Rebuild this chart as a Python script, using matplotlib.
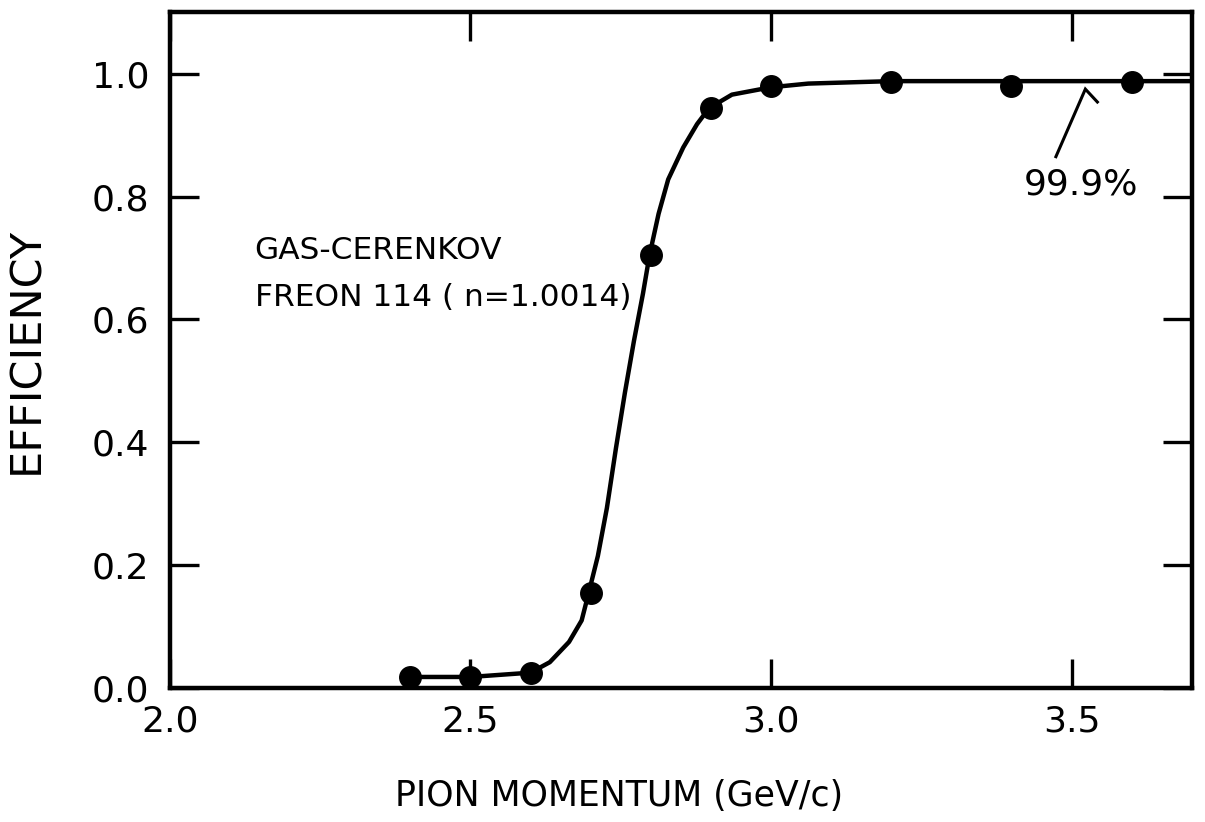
"""
Gas-Cerenkov counter efficiency vs pion momentum (Freon 114 radiator).
"""

import matplotlib
matplotlib.use("Agg")
import matplotlib.pyplot as plt

# ── Data ──────────────────────────────────────────────────────────────────────

# measured efficiency points
momentum   = [2.4, 2.5, 2.6, 2.7, 2.8, 2.9, 3.0, 3.2, 3.4, 3.6]
efficiency = [0.018, 0.018, 0.025, 0.155, 0.705, 0.945, 0.980, 0.986, 0.980, 0.986]

# hand-drawn threshold curve through the points
curve_p   = [2.400, 2.500, 2.600, 2.632, 2.664, 2.685, 2.697, 2.712, 2.727,
             2.742, 2.757, 2.772, 2.787, 2.798, 2.813, 2.829, 2.854, 2.877,
             2.897, 2.935, 3.000, 3.062, 3.200, 3.700]
curve_eff = [0.018, 0.018, 0.025, 0.042, 0.075, 0.110, 0.156, 0.215, 0.293,
             0.390, 0.481, 0.565, 0.642, 0.705, 0.772, 0.828, 0.880, 0.918,
             0.944, 0.966, 0.978, 0.984, 0.988, 0.988]

x_ticks = [2.0, 2.5, 3.0, 3.5]
y_ticks = [0.0, 0.2, 0.4, 0.6, 0.8, 1.0]

plateau_label = "99.9%"

# ── Figure ────────────────────────────────────────────────────────────────────

plt.rcParams["font.family"] = ["DejaVu Sans"]

fig = plt.figure(figsize=(12.05, 8.22), dpi=100)
ax = fig.add_axes([0.141, 0.163, 0.848, 0.822])

ax.plot(curve_p, curve_eff, color="black", linewidth=3.2,
        solid_joinstyle="round", solid_capstyle="butt", zorder=2)
ax.plot(momentum, efficiency, "o", color="black", markersize=15.5, zorder=3)

ax.set_xlim(2.0, 3.7)
ax.set_ylim(0.0, 1.1)

ax.set_xticks(x_ticks)
ax.set_xticklabels([f"{t:.1f}" for t in x_ticks])
ax.set_yticks(y_ticks)
ax.set_yticklabels([f"{t:.1f}" for t in y_ticks])

ax.tick_params(axis="both", direction="in", length=21, width=2.4,
               labelsize=26, top=True, right=True)
ax.tick_params(axis="x", pad=12)
ax.tick_params(axis="y", pad=15)

for sp in ax.spines.values():
    sp.set_linewidth(3.2)

ax.set_xlabel("PION MOMENTUM (GeV/c)", fontsize=25)
ax.xaxis.set_label_coords(0.44, -0.135)
ax.set_ylabel("EFFICIENCY", fontsize=31)
ax.yaxis.set_label_coords(-0.12, 0.5)

# detector description
ax.text(2.141, 0.712, "GAS-CERENKOV", fontsize=22.5, va="center", ha="left")
ax.text(2.141, 0.636, "FREON 114 ( n=1.0014)", fontsize=22.5,
        va="center", ha="left")

# plateau annotation with a caret pointer
ax.text(3.515, 0.82, plateau_label, fontsize=26, va="center", ha="center")
ax.plot([3.474, 3.523, 3.543], [0.865, 0.975, 0.954], color="black",
        linewidth=2.2, solid_joinstyle="miter")

fig.savefig("out.png", dpi=100)
